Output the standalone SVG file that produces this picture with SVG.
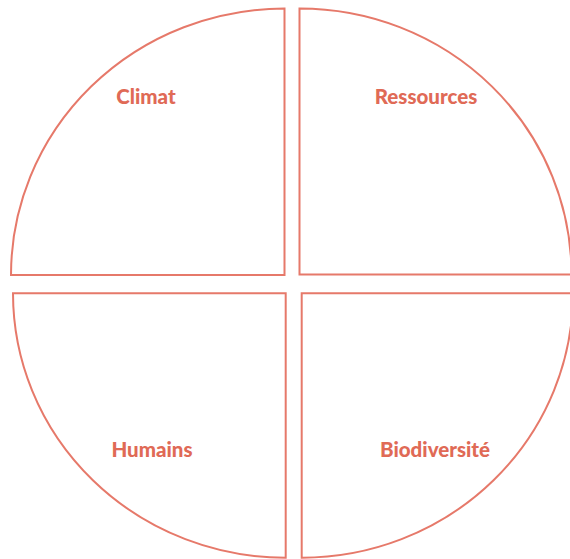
<svg xmlns="http://www.w3.org/2000/svg" width="570" height="559" viewBox="0 0 570 559">
<style>
.q{fill:#ffffff;stroke:#e6796a;stroke-width:2}
.t{font-family:Lato,"Open Sans",sans-serif;font-weight:900;font-size:20.5px;fill:#e06a56;text-anchor:middle}
</style>
<rect width="570" height="559" fill="#ffffff"/>
<g id="climat">
<path class="q" d="M284.5 275 L11 275 A273.5 266.5 0 0 1 284.5 8.5 Z"/>
<text class="t" x="146" y="104">Climat</text>
</g>
<g id="ressources">
<path class="q" d="M299.5 8.5 A272 266 0 0 1 571.5 274.5 L299.5 274.5 Z"/>
<text class="t" x="426" y="104">Ressources</text>
</g>
<g id="humains">
<path class="q" d="M285.7 293.3 L13 293.3 A272.7 264.4 0 0 0 285.7 557.7 Z"/>
<text class="t" x="152" y="457">Humains</text>
</g>
<g id="biodiversite">
<path class="q" d="M301.7 293.3 L573 293.3 A271.3 264.4 0 0 1 301.7 557.7 Z"/>
<text class="t" x="435" y="457">Biodiversité</text>
</g>
<g id="connectors"></g>
</svg>
